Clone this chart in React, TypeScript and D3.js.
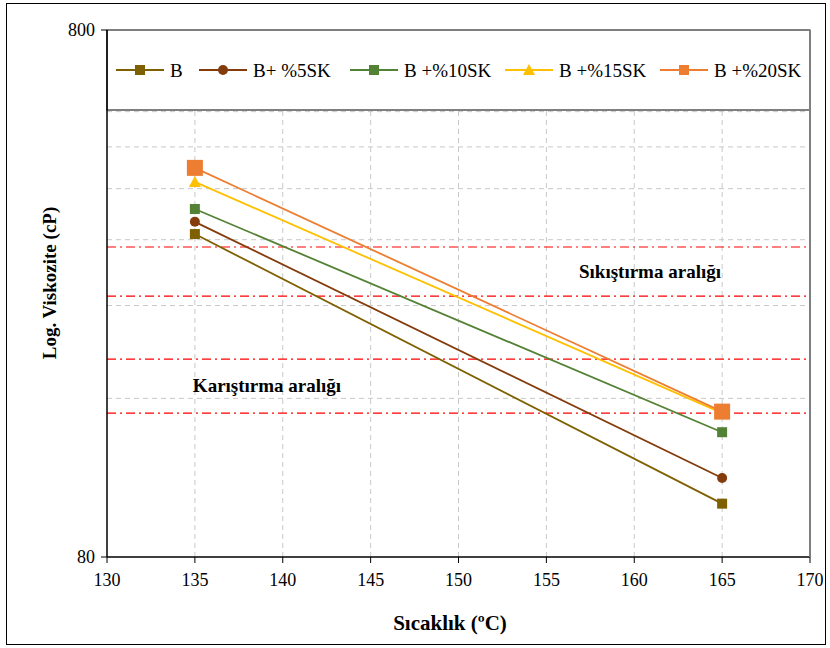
import React, { useEffect, useRef } from 'react';
import * as d3 from 'd3';

// temperatures (°C) where viscosity was measured
const temps = [135, 165];

const seriesNames = ['B', 'B+ %5SK', 'B +%10SK', 'B +%15SK', 'B +%20SK'];
const seriesColors = ['#7f6000', '#843c0c', '#548235', '#ffc000', '#ed7d31'];
const seriesMarkers = ['square', 'circle', 'square', 'triangle', 'bigsquare'];

// viscosity (cP) at 135 and 165 °C
const valuesB = [328, 101];
const valuesB5 = [346, 113];
const valuesB10 = [366, 138];
const valuesB15 = [412, 150];
const valuesB20 = [438, 151];

const xTicks = [130, 135, 140, 145, 150, 155, 160, 165, 170];
const yTickLabels = [80, 800];
const yGrid = [160, 240, 320, 400, 480, 560, 640, 720];
// compaction / mixing range limits
const rangeLines = [150, 190, 250, 310];

const font = "'Liberation Serif', 'Times New Roman', serif";

const App = () => {
  const ref = useRef<SVGSVGElement>(null);

  useEffect(() => {
    if (!ref.current) return;
    const svg = d3.select(ref.current);
    svg.selectAll('*').remove();

    const left = 107, right = 810, top = 30, bottom = 557;
    const x = d3.scaleLinear().domain([130, 170]).range([left, right]);
    const y = d3.scaleLog().domain([80, 800]).range([bottom, top]);

    const allValues = [valuesB, valuesB5, valuesB10, valuesB15, valuesB20];

    // gridlines
    svg.append('g').selectAll('line')
      .data(yGrid).enter().append('line')
      .attr('x1', left).attr('x2', right)
      .attr('y1', d => y(d)).attr('y2', d => y(d))
      .attr('stroke', '#c8c8c8').attr('stroke-dasharray', '5,4');

    svg.append('g').selectAll('line')
      .data(xTicks.slice(1, -1)).enter().append('line')
      .attr('x1', d => x(d)).attr('x2', d => x(d))
      .attr('y1', top).attr('y2', bottom)
      .attr('stroke', '#c8c8c8').attr('stroke-dasharray', '5,4');

    // red range lines
    svg.append('g').selectAll('line')
      .data(rangeLines).enter().append('line')
      .attr('x1', left).attr('x2', right)
      .attr('y1', d => y(d)).attr('y2', d => y(d))
      .attr('stroke', '#ff0000').attr('stroke-width', 1.2)
      .attr('stroke-dasharray', '9,4,2,4');

    // annotations
    svg.append('text')
      .attr('x', 650).attr('y', 278)
      .attr('text-anchor', 'middle')
      .attr('font-family', font).attr('font-weight', 'bold').attr('font-size', 19)
      .text('Sıkıştırma aralığı');
    svg.append('text')
      .attr('x', 267).attr('y', 392)
      .attr('text-anchor', 'middle')
      .attr('font-family', font).attr('font-weight', 'bold').attr('font-size', 19)
      .text('Karıştırma aralığı');

    // legend box (sits over the top of the plot)
    svg.append('rect')
      .attr('x', left).attr('y', top).attr('width', right - left).attr('height', 80)
      .attr('fill', 'white').attr('stroke', '#000');

    // axes frame
    svg.append('line').attr('x1', left).attr('x2', left).attr('y1', top).attr('y2', bottom)
      .attr('stroke', '#000').attr('stroke-width', 1.5);
    svg.append('line').attr('x1', left).attr('x2', right).attr('y1', bottom).attr('y2', bottom)
      .attr('stroke', '#000').attr('stroke-width', 1.5);
    svg.append('line').attr('x1', right).attr('x2', right).attr('y1', top).attr('y2', bottom)
      .attr('stroke', '#7f7f7f').attr('stroke-width', 2);

    // x ticks
    const xg = svg.append('g');
    xg.selectAll('line').data(xTicks).enter().append('line')
      .attr('x1', d => x(d)).attr('x2', d => x(d))
      .attr('y1', bottom).attr('y2', bottom + 6)
      .attr('stroke', '#000');
    xg.selectAll('text').data(xTicks).enter().append('text')
      .attr('x', d => x(d)).attr('y', bottom + 29)
      .attr('text-anchor', 'middle')
      .attr('font-family', font).attr('font-size', 18)
      .text(d => d);

    // y ticks
    const yg = svg.append('g');
    yg.selectAll('line').data(yTickLabels).enter().append('line')
      .attr('x1', left - 6).attr('x2', left)
      .attr('y1', d => y(d)).attr('y2', d => y(d))
      .attr('stroke', '#000');
    yg.selectAll('text').data(yTickLabels).enter().append('text')
      .attr('x', left - 12).attr('y', d => y(d) + 6)
      .attr('text-anchor', 'end')
      .attr('font-family', font).attr('font-size', 18)
      .text(d => d);

    // axis titles
    svg.append('text')
      .attr('transform', `translate(56,283) rotate(-90)`)
      .attr('text-anchor', 'middle')
      .attr('font-family', font).attr('font-weight', 'bold').attr('font-size', 19)
      .text('Log. Viskozite (cP)');
    svg.append('text')
      .attr('x', 450).attr('y', 630)
      .attr('text-anchor', 'middle')
      .attr('font-family', font).attr('font-weight', 'bold').attr('font-size', 21)
      .text('Sıcaklık (ºC)');

    const drawMarker = (g: any, kind: string, cx: number, cy: number, color: string) => {
      if (kind === 'circle') {
        g.append('circle').attr('cx', cx).attr('cy', cy).attr('r', 5).attr('fill', color);
      } else if (kind === 'triangle') {
        g.append('path')
          .attr('d', `M${cx},${cy - 6}L${cx + 6},${cy + 5}L${cx - 6},${cy + 5}Z`)
          .attr('fill', color);
      } else {
        const s = kind === 'bigsquare' ? 16 : 10;
        g.append('rect').attr('x', cx - s / 2).attr('y', cy - s / 2)
          .attr('width', s).attr('height', s).attr('fill', color);
      }
    };

    // series
    const line = d3.line<number>().x((d, i) => x(temps[i])).y(d => y(d));
    allValues.forEach((vals, si) => {
      const g = svg.append('g');
      g.append('path').attr('d', line(vals) as string)
        .attr('fill', 'none').attr('stroke', seriesColors[si]).attr('stroke-width', 1.8);
      vals.forEach((v, i) => drawMarker(g, seriesMarkers[si], x(temps[i]), y(v), seriesColors[si]));
    });

    // legend entries
    const legendX = [116, 199, 350, 505, 660];
    const ly = 70;
    seriesNames.forEach((name, si) => {
      const g = svg.append('g');
      const lx = legendX[si];
      g.append('line').attr('x1', lx).attr('x2', lx + 48).attr('y1', ly).attr('y2', ly)
        .attr('stroke', seriesColors[si]).attr('stroke-width', 1.8);
      drawMarker(g, seriesMarkers[si] === 'bigsquare' ? 'square' : seriesMarkers[si], lx + 24, ly, seriesColors[si]);
      g.append('text').attr('x', lx + 54).attr('y', ly + 7)
        .attr('font-family', font).attr('font-size', 19)
        .text(name);
    });

    // outer frame
    svg.append('rect')
      .attr('x', 6.5).attr('y', 3.5).attr('width', 819).attr('height', 641)
      .attr('fill', 'none').attr('stroke', '#000').attr('stroke-width', 1);
  }, []);

  return (
    <div style={{ position: 'absolute', left: 0, top: 0 }}>
      <svg ref={ref} width={830} height={648} style={{ display: 'block' }} />
    </div>
  );
};

export default App;
